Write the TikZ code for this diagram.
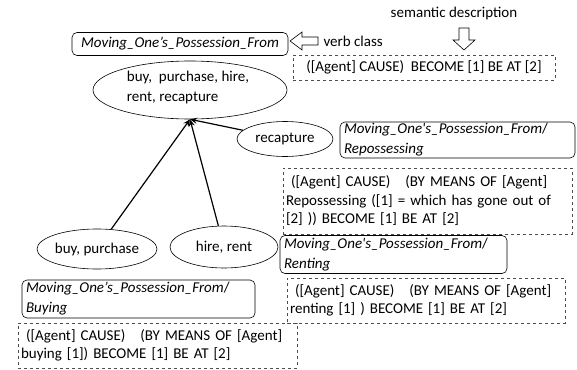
\documentclass[tikz,border=0pt]{standalone}
\usepackage{fontspec}
\setmainfont{Carlito}
\usepackage{textcomp}
\usetikzlibrary{arrows.meta,shapes.geometric}
\newcommand{\vcname}[1]{\textit{Moving\_One#1s\_Possession\_From}}

\begin{document}
\begin{tikzpicture}[x=1pt,y=-1pt,
  font=\fontsize{15}{20}\selectfont,
  verb/.style={draw=black, ellipse, inner sep=0pt, line width=0.6pt},
  vclass/.style={draw=black, rounded corners=5pt, line width=0.6pt, align=left, inner sep=0pt},
  sem/.style={draw=black!70, dashed, line width=0.6pt, align=left, inner sep=0pt,
    font=\fontsize{15}{18.5}\selectfont},
  hollow/.style={draw=black, fill=white, line width=0.6pt, line join=miter}]
  \useasboundingbox (0,0) rectangle (577,369);

  % labels for the legend
  \node (SEMLABEL) at (454,14) {semantic description};
  \node[anchor=west] (VCLABEL) at (320,41) {verb class};
  \draw[hollow] (453,40) -- (459,40) -- (459,28) -- (469,28) -- (469,40) -- (475,40) -- (464,50) -- cycle;
  \draw[hollow] (290,41) -- (302,32) -- (302,37) -- (318,37) -- (318,45) -- (302,45) -- (302,50) -- cycle;

  % top class
  \node[vclass, minimum width=216pt, minimum height=23pt, align=center] (TOPCLASS) at (180,44) {\vcname{’}};
  \node[sem, minimum width=262pt, minimum height=25pt] (TOPSEM) at (424,67.5) {([Agent] CAUSE)\ \ BECOME [1] BE AT [2]};
  \node[verb, minimum width=194pt, minimum height=58pt] (ALL) at (190,90) {};
  \node[align=left, inner sep=0pt] (ALLTEXT) at (188,87) {buy,\ \ purchase, hire,\\rent, recapture};

  % subclasses
  \node[verb, minimum width=96pt, minimum height=35pt] (RECAP) at (285,139) {recapture};
  \node[vclass, minimum width=235pt, minimum height=36pt, text width=227pt] (REPCLASS) at (457.5,140)
    {\vcname{\textquotesingle}/\\\textit{Repossessing}};
  \node[sem, minimum width=289pt, minimum height=66pt, text width=283pt] (REPSEM) at (427.5,201)
    {\ ([Agent] CAUSE)\ \ \ (BY MEANS OF [Agent]\\Repossessing ([1] = which has gone out of\\{[2]} )) BECOME [1] BE AT [2]};

  \node[verb, minimum width=120pt, minimum height=40pt] (BUY) at (97,249) {buy, purchase};
  \node[verb, minimum width=108pt, minimum height=42pt] (HIRE) at (224,247) {hire, rent};

  \node[vclass, minimum width=227pt, minimum height=38pt, text width=219pt] (RENTCLASS) at (393.5,254.5)
    {\vcname{\textquotesingle}/\\\textit{Renting}};
  \node[sem, minimum width=278pt, minimum height=45pt, text width=272pt] (RENTSEM) at (426,300.5)
    {\ ([Agent] CAUSE)\ \ \ (BY MEANS OF [Agent]\\renting [1] ) BECOME [1] BE AT [2]};
  \node[vclass, minimum width=233pt, minimum height=38pt, text width=225pt] (BUYCLASS) at (138.5,299)
    {\vcname{’}/\\\textit{Buying}};
  \node[sem, minimum width=279pt, minimum height=45pt, text width=273pt] (BUYSEM) at (157.5,345.5)
    {\ ([Agent] CAUSE)\ \ \ (BY MEANS OF [Agent]\\buying [1]) BECOME [1] BE AT [2]};

  \draw[-{Stealth[length=7pt,width=6pt]}, line width=1.2pt] (BUY) -- (ALL.south);
  \draw[-{Stealth[length=7pt,width=6pt]}, line width=1.2pt] (HIRE) -- (ALL.south);
  \draw[-{Stealth[length=7pt,width=6pt]}, line width=1.2pt] (RECAP) -- (ALL.south);
\end{tikzpicture}
\end{document}
